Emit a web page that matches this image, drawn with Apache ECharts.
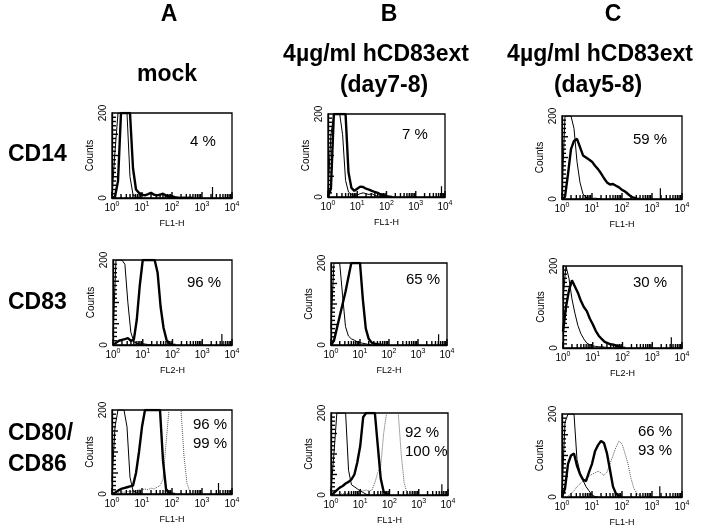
<!DOCTYPE html>
<html><head><meta charset="utf-8">
<script src="https://cdn.jsdelivr.net/npm/echarts@6/dist/echarts.min.js"></script>
<style>html,body{margin:0;padding:0;background:#fff}#c{width:720px;height:528px}</style>
</head><body><div id="c"></div>
<script>
// fluorescence channel values (0.1-decade bins, 10^0 .. 10^4)
const FL = [1, 1.259, 1.585, 1.995, 2.512, 3.162, 3.981, 5.012, 6.310, 7.943,
  10, 12.59, 15.85, 19.95, 25.12, 31.62, 39.81, 50.12, 63.10, 79.43,
  100, 125.9, 158.5, 199.5, 251.2, 316.2, 398.1, 501.2, 631.0, 794.3,
  1000, 1259, 1585, 1995, 2512, 3162, 3981, 5012, 6310, 7943, 10000];

const COLUMN_TITLES = ['A', 'B', 'C'];
const COLUMN_SUBTITLES = [['mock'], ['4µg/ml hCD83ext', '(day7-8)'], ['4µg/ml hCD83ext', '(day5-8)']];
const ROW_LABELS = [['CD14'], ['CD83'], ['CD80/', 'CD86']];
const X_NAMES = ['FL1-H', 'FL2-H', 'FL1-H'];
const Y_NAME = 'Counts';
const Y_LABELS = [0, 200];
const X_MAJOR = [1, 10, 100, 1000, 10000];
const X_MINOR = [2,3,4,5,6,7,8,9,20,30,40,50,60,70,80,90,200,300,400,500,600,700,800,900,2000,3000,4000,5000,6000,7000,8000,9000];
const Y_MAJOR = [50, 100, 150];
const Y_MINOR = [10,20,30,40,60,70,80,90,110,120,130,140,160,170,180,190];
const PERCENTS = [
  [['4 %'], ['7 %'], ['59 %']],
  [['96 %'], ['65 %'], ['30 %']],
  [['96 %', '99 %'], ['92 %', '100 %'], ['66 %', '93 %']]
];
// gate marker positions (FL value) and height (counts)
const MARKERS = [[2240, 7590, 1900], [4570, 5130, 4370], [3550, 6170, 1820]];
const MARKER_H = 26;

// histograms (counts per bin, starting at FL[0]; off-scale bins read as 200)
// thin = isotype control, thick = stained, dotted = second stain
const THIN_A1 = [5, 110, 200, 200, 200, 200, 50, 8, 2, 1, 0];
const THICK_A1 = [0, 3, 40, 200, 200, 200, 200, 70, 20, 12, 8, 6, 9, 12, 8, 6, 8, 10, 6, 3, 4, 2, 1, 0, 1, 0, 1, 0];
const THIN_B1 = [10, 150, 200, 200, 200, 150, 40, 12, 6, 4, 5, 8, 10, 8, 6, 8, 4, 2, 1, 0];
const THICK_B1 = [0, 20, 200, 200, 200, 200, 200, 60, 22, 15, 20, 25, 24, 20, 18, 15, 12, 10, 6, 4, 2, 1, 0];
const THIN_C1 = [10, 200, 200, 200, 170, 90, 40, 12, 4, 2, 1, 2, 1, 0];
const THICK_C1 = [0, 5, 60, 120, 140, 145, 125, 105, 100, 95, 90, 80, 72, 62, 50, 40, 35, 36, 32, 28, 22, 18, 12, 6, 3, 1, 0];

const THIN_A2 = [20, 200, 200, 200, 190, 100, 30, 8, 4, 2, 3, 2, 1, 0];
const THICK_A2 = [0, 5, 10, 12, 14, 16, 10, 12, 60, 140, 200, 200, 200, 200, 200, 170, 90, 40, 12, 3, 1, 0];
const THIN_B2 = [40, 200, 200, 200, 120, 45, 22, 15, 12, 8, 6, 4, 3, 1, 0];
const THICK_B2 = [0, 10, 40, 70, 100, 130, 165, 200, 200, 200, 200, 110, 40, 15, 6, 3, 2, 1, 0];
const THIN_C2 = [120, 200, 170, 120, 85, 55, 35, 22, 12, 8, 5, 4, 3, 3, 2, 1, 0];
const THICK_C2 = [40, 100, 140, 165, 150, 135, 115, 100, 90, 72, 58, 42, 30, 22, 15, 12, 9, 8, 5, 3, 1, 0];

const THIN_A3 = [30, 160, 200, 200, 200, 160, 40, 8, 3, 1, 0];
const THICK_A3 = [0, 3, 8, 12, 14, 16, 18, 20, 50, 100, 160, 200, 200, 200, 200, 200, 200, 80, 12, 3, 1, 0];
const DOTTED_A3 = [0, 2, 3, 5, 4, 6, 5, 6, 8, 10, 10, 12, 10, 14, 12, 16, 20, 35, 120, 200, 200, 200, 200, 200, 90, 25, 5, 1, 0];
const THIN_B3 = [10, 100, 200, 200, 200, 200, 60, 25, 20, 15, 10, 6, 2, 0];
const THICK_B3 = [0, 5, 12, 18, 22, 28, 32, 38, 50, 80, 120, 190, 200, 200, 200, 200, 120, 40, 8, 2, 0];
const DOTTED_B3 = [0, 0, 1, 2, 3, 3, 4, 5, 6, 8, 10, 10, 12, 10, 12, 30, 55, 70, 150, 200, 200, 200, 200, 200, 100, 30, 5, 0];
const THIN_C3 = [10, 180, 200, 200, 200, 90, 60, 40, 25, 15, 5, 1, 0];
const THICK_C3 = [0, 20, 80, 100, 105, 75, 55, 42, 38, 60, 80, 110, 125, 135, 130, 105, 65, 25, 8, 2, 0];
const DOTTED_C3 = [0, 0, 2, 8, 15, 25, 32, 38, 45, 50, 55, 58, 62, 58, 52, 60, 80, 100, 120, 135, 128, 105, 80, 45, 20, 8, 3, 1, 0];

const PANEL_DATA = [
  [[THIN_A1, THICK_A1], [THIN_B1, THICK_B1], [THIN_C1, THICK_C1]],
  [[THIN_A2, THICK_A2], [THIN_B2, THICK_B2], [THIN_C2, THICK_C2]],
  [[THIN_A3, THICK_A3, DOTTED_A3], [THIN_B3, THICK_B3, DOTTED_B3], [THIN_C3, THICK_C3, DOTTED_C3]]
];

// ---- layout ----
const GRIDS = [
  [[112, 113, 120, 85], [328, 114, 117, 83], [562, 116, 120, 83]],
  [[113, 260, 119, 85], [331, 263, 116, 82], [563, 266, 119, 82]],
  [[112, 410, 120, 84], [331, 413, 117, 82], [562, 414, 120, 83]]
];
const PCT_POS = [
  [[190, 142], [402, 135], [633, 140]],
  [[187, 283], [406, 280], [633, 283]],
  [[193, 425], [405, 433], [638, 432]]
];
const FONT = '"Liberation Sans", Arial, sans-serif';

const grid = [], xAxis = [], yAxis = [], series = [], graphic = [];
const toPts = arr => arr.map((v, i) => [FL[i], v]);
const styles = [
  {width: 1, type: 'solid', color: '#000'},
  {width: 2.4, type: 'solid', color: '#000'},
  {width: 1, type: 'dotted', color: '#555'}
];
const axisLineStyle = {color: '#000', width: 1.3};

// tick marks drawn inside the frame through the axes' own scales
function tickSeries(gi, values, len, horizontal) {
  return {type: 'custom', xAxisIndex: gi, yAxisIndex: gi, silent: true, animation: false, z: 5,
    data: values.map(v => horizontal ? [v, 0] : [1, v]),
    renderItem: (params, api) => {
      const p = api.coord([api.value(0), api.value(1)]);
      const shape = horizontal
        ? {x1: p[0], y1: p[1], x2: p[0], y2: p[1] - len}
        : {x1: p[0], y1: p[1], x2: p[0] + len, y2: p[1]};
      return {type: 'line', shape, style: {stroke: '#000', lineWidth: 1.4}};
    }};
}

let gi = 0;
for (let r = 0; r < 3; r++) {
  for (let c = 0; c < 3; c++) {
    const g = GRIDS[r][c];
    grid.push({left: g[0], top: g[1], width: g[2], height: g[3], show: true,
      borderColor: '#000', borderWidth: 1.3});
    xAxis.push({
      type: 'log', logBase: 10, min: 1, max: 10000, gridIndex: gi,
      axisLine: {show: true, onZero: false, lineStyle: axisLineStyle}, splitLine: {show: false},
      axisTick: {show: false},
      axisLabel: {
        margin: 3, color: '#000',
        formatter: v => '{b|10}{s|' + Math.round(Math.log10(v)) + '}',
        rich: {
          b: {fontSize: 10, fontFamily: FONT, color: '#000'},
          s: {fontSize: 7, fontFamily: FONT, color: '#000', padding: [0, 0, 7, 0]}
        }
      },
      name: X_NAMES[r], nameLocation: 'middle', nameGap: 21,
      nameTextStyle: {fontSize: 9, fontFamily: FONT, color: '#000'}
    });
    yAxis.push({
      type: 'value', min: 0, max: 200, interval: 50, gridIndex: gi,
      axisLine: {show: true, onZero: false, lineStyle: axisLineStyle}, splitLine: {show: false},
      axisTick: {show: false},
      axisLabel: {rotate: 90, margin: 4, fontSize: 10, fontFamily: FONT, color: '#000',
        formatter: v => Y_LABELS.includes(v) ? String(v) : ''},
      name: Y_NAME, nameLocation: 'middle', nameGap: 17,
      nameTextStyle: {fontSize: 10, fontFamily: FONT, color: '#000'}
    });
    PANEL_DATA[r][c].forEach((arr, k) => {
      series.push({type: 'line', xAxisIndex: gi, yAxisIndex: gi, data: toPts(arr),
        showSymbol: false, silent: true, clip: true, animation: false,
        lineStyle: styles[k], z: 3 - k});
    });
    const m = MARKERS[r][c];
    series.push({type: 'line', xAxisIndex: gi, yAxisIndex: gi, data: [[m, 0], [m, MARKER_H]],
      showSymbol: false, silent: true, animation: false, lineStyle: {width: 1.2, color: '#000'}});
    series.push(tickSeries(gi, X_MAJOR, 6, true));
    series.push(tickSeries(gi, X_MINOR, 4, true));
    series.push(tickSeries(gi, Y_MAJOR, 6, false));
    series.push(tickSeries(gi, Y_MINOR, 4, false));
    const pp = PCT_POS[r][c];
    PERCENTS[r][c].forEach((t, k) => {
      graphic.push({type: 'text', x: pp[0], y: pp[1] + k * 19,
        style: {text: t, font: '15px ' + FONT, fill: '#000', textAlign: 'left', textVerticalAlign: 'middle'}});
    });
    gi++;
  }
}

// column headings
const COL_X = [169, 389, 613];
const SUB_X = [[167], [376, 384], [600, 598]];
const SUB_Y = [[75], [55, 86], [55, 86]];
COLUMN_TITLES.forEach((t, c) => {
  graphic.push({type: 'text', x: COL_X[c], y: 15,
    style: {text: t, font: 'bold 23px ' + FONT, fill: '#000', textAlign: 'center', textVerticalAlign: 'middle'}});
  COLUMN_SUBTITLES[c].forEach((s, k) => {
    graphic.push({type: 'text', x: SUB_X[c][k], y: SUB_Y[c][k],
      style: {text: s, font: 'bold 23px ' + FONT, fill: '#000', textAlign: 'center', textVerticalAlign: 'middle'}});
  });
});
// row labels
const ROW_Y = [[155], [303], [434, 465]];
ROW_LABELS.forEach((lines, r) => {
  lines.forEach((s, k) => {
    graphic.push({type: 'text', x: 8, y: ROW_Y[r][k],
      style: {text: s, font: 'bold 23px ' + FONT, fill: '#000', textAlign: 'left', textVerticalAlign: 'middle'}});
  });
});

const chart = echarts.init(document.getElementById('c'), null, {renderer: 'canvas'});
chart.setOption({backgroundColor: '#fff', animation: false, grid, xAxis, yAxis, series, graphic});
</script>
</body></html>
